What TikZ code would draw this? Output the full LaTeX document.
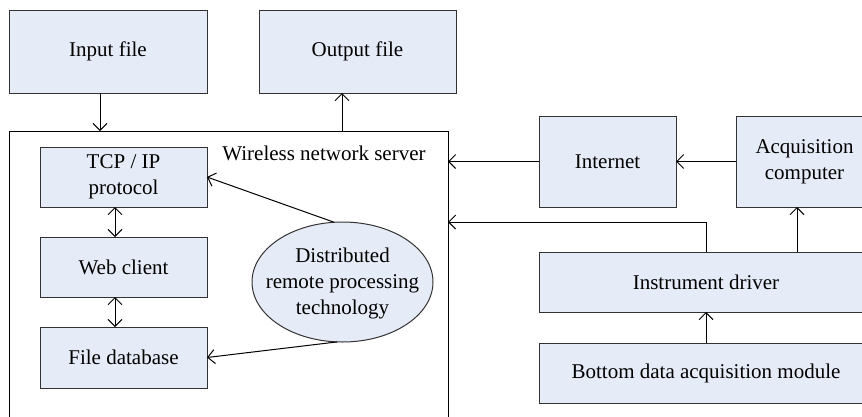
\documentclass[tikz,border=0pt]{standalone}
\usepackage{fontspec}
\setmainfont{Liberation Serif}
\usetikzlibrary{arrows.meta,shapes.geometric}
\definecolor{boxfill}{HTML}{E6ECF7}
\definecolor{boxline}{HTML}{333333}
\tikzset{
  txt/.style={font=\fontsize{21}{26}\selectfont,align=center},
  box/.style={txt,draw=boxline,fill=boxfill,line width=1pt,outer sep=0pt,inner sep=2pt},
  arr/.style={-{Straight Barb[length=7pt,width=14pt]},line width=1pt},
  dbl/.style={{Straight Barb[length=7pt,width=14pt]}-{Straight Barb[length=7pt,width=14pt]},line width=1pt},
}
\begin{document}
\begin{tikzpicture}[x=1pt,y=-1pt]
\useasboundingbox (0,0) rectangle (862,416);
\clip (0,0) rectangle (862,416);
\fill[white] (0,0) rectangle (862,416);
\node[box,minimum width=198,minimum height=83] (in) at (108,51.5) {Input file};
\node[box,minimum width=197,minimum height=83] (out) at (357.5,51.5) {Output file};
\node[draw=black,line width=1pt,outer sep=0pt,minimum width=439,minimum height=294] (srv) at (228.5,278) {};
\node[txt,inner sep=0pt] (lbl) at (324,153) {Wireless network server};
\node[box,minimum width=167,minimum height=60] (tcp) at (123.5,177) {TCP / IP\\protocol};
\node[box,minimum width=167,minimum height=60] (web) at (123.5,267) {Web client};
\node[box,minimum width=167,minimum height=61] (fdb) at (123.5,357.5) {File database};
\node[box,ellipse,minimum width=181,minimum height=120,inner sep=0pt] (ell) at (342.5,282) {};
\node[txt,inner sep=0pt] (ellt) at (342.5,283) {Distributed\\remote processing\\technology};
\node[box,minimum width=137,minimum height=91] (inet) at (607.5,161.5) {Internet};
\node[box,minimum width=137,minimum height=91] (acq) at (804.5,161.5) {Acquisition\\computer};
\node[box,minimum width=334,minimum height=60] (drv) at (706,282) {Instrument driver};
\node[box,minimum width=334,minimum height=60] (bot) at (706,373) {Bottom data acquisition module};
\draw[arr] (in.south -| 100,0) -- (srv.north -| 100,0);
\draw[arr] (srv.north -| 342,0) -- (out.south -| 342,0);
\draw[dbl] (tcp.south -| 115,0) -- (web.north -| 115,0);
\draw[dbl] (web.south -| 115,0) -- (fdb.north -| 115,0);
\draw[arr] (ell.98) -- (tcp.east);
\draw[arr] (ell.265) -- (fdb.east);
\draw[arr] (inet.west) -- (inet.west -| srv.east);
\draw[arr] (acq.west) -- (inet.east);
\draw[arr] (drv.north) |- (srv.east |- 0,222);
\draw[arr] (drv.north -| 797,0) -- (acq.south -| 797,0);
\draw[arr] (bot.north) -- (drv.south);
\end{tikzpicture}
\end{document}
